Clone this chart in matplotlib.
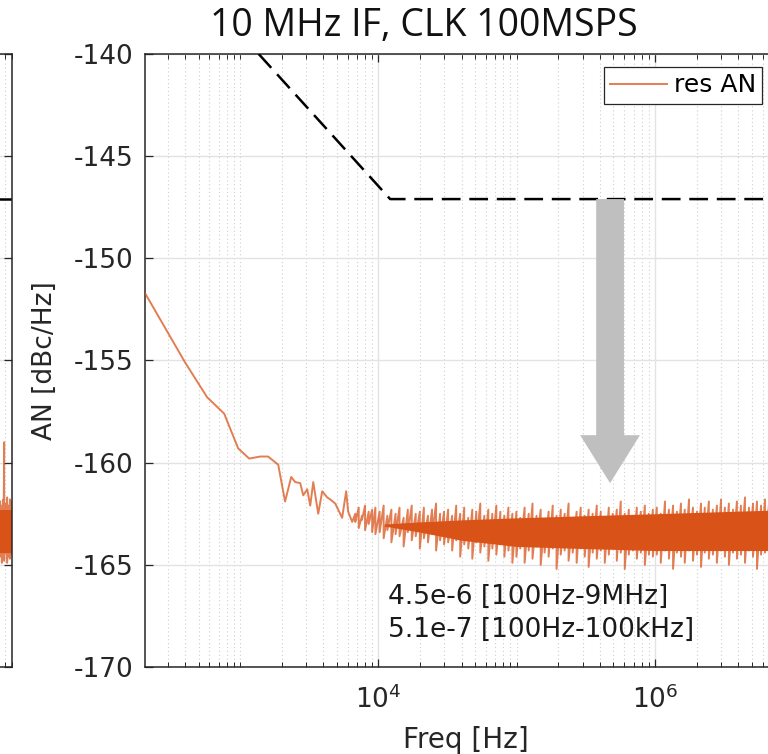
"""
Residual AN spectrum, 10 MHz IF / 100 MSPS clock (MATLAB-style figure crop)
"""
import matplotlib
matplotlib.use("Agg")
import matplotlib.pyplot as plt
from matplotlib.ticker import FixedLocator, LogLocator, NullFormatter
import numpy as np

plt.rcParams["font.family"] = ["DejaVu Sans"]
plt.rcParams["axes.unicode_minus"] = False

COLORS = {
    "line":  "#D95319",
    "mask":  "#000000",
    "arrow": "#BFBFBF",
    "axis":  "#262626",
    "grid":  "#E3E3E3",
    "minor": "#CFCFCF",
}

# ── data ────────────────────────────────────────────────────────
TITLE = "10 MHz IF, CLK 100MSPS"
X_LIM = (205, 9e6)
Y_LIM = (-170, -140)
Y_TICKS = [-170, -165, -160, -155, -150, -145, -140]
X_MAJOR = [1e4, 1e6]

# spec mask (dashed)
mask_f = [1.0e3, 1.215e4, 9.0e6]
mask_v = [-139.0, -147.1, -147.1]

# low-frequency part of the trace (single line)
thin_f = [205, 400, 577, 766, 967, 1162, 1396, 1592, 1884, 2112, 2339, 2501,
          2718, 2858, 3054, 3210, 3376, 3667, 3920, 4258, 4481, 4869, 5462,
          5840, 6040, 6456]
thin_v = [-151.7, -155.1, -156.8, -157.6, -159.3, -159.8, -159.7, -159.7,
          -160.1, -161.9, -160.7, -160.95, -161.0, -161.6, -161.3, -162.1,
          -160.95, -162.5, -161.4, -161.7, -161.8, -162.0, -162.7, -161.4,
          -162.4, -162.9]

# noisy part: upper / lower swing of the trace at each frequency
band_f = [6.8e3, 7.2e3, 7.6e3, 8.0e3, 8.5e3, 9.0e3, 9.5e3,
          10.2e3, 10.9e3, 11.6e3, 12.4e3, 13.3e3, 14.2e3, 15.2e3, 16.3e3,
          17.4e3, 18.6e3, 19.9e3, 21.3e3, 22.8e3, 24.4e3, 26.1e3, 27.9e3, 29.8e3,
          31.9e3, 34.1e3, 36.5e3, 39.0e3, 41.7e3, 44.6e3, 47.7e3, 51.0e3, 54.5e3,
          58.3e3, 62.3e3, 66.6e3, 71.2e3, 76.1e3, 81.4e3, 87.0e3, 93.0e3,
          99.4e3, 106e3, 114e3, 122e3, 130e3, 139e3, 149e3, 159e3, 170e3,
          182e3, 194e3, 208e3, 222e3, 237e3, 254e3, 271e3, 290e3, 310e3,
          331e3, 354e3, 379e3, 405e3, 433e3, 463e3, 495e3, 529e3, 565e3,
          604e3, 646e3, 691e3, 738e3, 789e3, 844e3, 902e3, 964e3,
          1.03e6, 1.10e6, 1.18e6, 1.26e6, 1.35e6, 1.44e6, 1.54e6, 1.64e6,
          1.76e6, 1.88e6, 2.01e6, 2.15e6, 2.29e6, 2.45e6, 2.62e6, 2.80e6,
          3.00e6, 3.20e6, 3.42e6, 3.66e6, 3.91e6, 4.18e6, 4.47e6, 4.78e6,
          5.11e6, 5.46e6, 5.84e6, 6.24e6, 6.67e6, 7.13e6, 7.62e6, 8.15e6,
          8.71e6, 9.0e6]
band_hi = [-162.5, -162.2, -162.6, -162.1, -162.4, -162.3, -162.2,
           -162.4, -162.1, -162.6, -162.3, -162.5, -162.2, -162.7, -162.3,
           -162.1, -162.5, -162.4, -162.2, -162.6, -162.3, -162.0, -162.5, -162.4,
           -162.3, -162.6, -162.1, -162.5, -162.2, -162.7, -162.3, -162.4, -162.0,
           -162.6, -162.3, -162.5, -162.1, -162.4, -162.6, -162.2, -162.5,
           -162.4, -162.7, -162.2, -162.5, -162.0, -162.6, -162.3, -162.8, -162.4,
           -162.1, -162.6, -162.3, -162.5, -162.0, -162.7, -162.4, -162.2, -162.6,
           -162.3, -162.5, -162.1, -162.4, -162.7, -162.2, -162.5, -162.3, -161.9,
           -162.5, -162.3, -162.6, -162.2, -162.4, -162.1, -162.5, -162.3,
           -162.2, -162.5, -161.9, -162.3, -162.1, -162.4, -162.0, -162.3,
           -161.8, -162.2, -162.4, -162.0, -162.2, -161.9, -162.3, -162.1,
           -161.8, -162.2, -162.0, -162.3, -161.9, -162.1, -161.7, -162.2,
           -162.0, -161.9, -162.1, -161.8, -162.0, -161.7, -162.0, -161.8,
           -161.9, -162.0]
band_lo = [-162.9, -163.2, -162.8, -163.3, -163.0, -163.4, -163.5,
           -163.4, -163.7, -163.3, -163.9, -163.5, -163.6, -164.1, -163.4,
           -163.8, -163.6, -164.2, -163.7, -163.9, -163.5, -164.3, -163.8, -164.0,
           -163.9, -164.3, -163.8, -164.6, -164.0, -164.2, -164.7, -163.9, -164.4,
           -164.1, -164.8, -164.2, -164.5, -164.0, -164.6, -164.3, -164.9,
           -164.6, -164.2, -164.9, -164.3, -164.7, -164.1, -165.0, -164.4, -164.6,
           -164.2, -165.2, -164.5, -164.3, -164.8, -164.4, -164.9, -164.2, -164.6,
           -165.1, -164.4, -164.7, -164.3, -164.9, -164.5, -164.2, -164.8, -164.4,
           -165.2, -164.5, -164.3, -164.7, -164.4, -165.0, -164.5, -164.6,
           -164.5, -164.9, -164.3, -164.7, -165.2, -164.4, -164.6, -164.9,
           -164.3, -164.8, -164.5, -165.1, -164.4, -164.7, -164.5, -164.9,
           -164.3, -164.6, -165.0, -164.4, -164.7, -164.5, -164.9, -164.3,
           -164.6, -165.2, -164.5, -164.4, -164.8, -164.5, -164.6, -164.9,
           -164.4, -164.6]

# solid core of the noise band (where the trace overlaps itself)
core_f  = [1.1e4, 2.0e4, 4.0e4, 1.0e5, 3.0e5, 1.0e6, 3.0e6, 9.0e6]
core_hi = [-163.0, -162.9, -162.8, -162.7, -162.6, -162.5, -162.4, -162.3]
core_lo = [-163.1, -163.4, -163.8, -164.1, -164.2, -164.3, -164.3, -164.3]

# neighbouring panel (only its right edge is in the crop)
left_f  = [7.4e6, 7.6e6, 7.8e6, 7.9e6, 8.1e6, 8.3e6, 8.5e6, 8.7e6, 8.9e6]
left_hi = [-161.9, -162.1, -161.8, -159.0, -162.0, -161.7, -162.1, -161.8, -161.9]
left_lo = [-164.6, -164.9, -164.5, -164.8, -164.4, -164.9, -164.6, -164.7, -164.5]
left_core_f  = [7.3e6, 9.0e6]
left_core_hi = [-162.3, -162.3]
left_core_lo = [-164.4, -164.4]

ARROW_F = 4.73e5
ARROW_V = (-147.1, -161.0)
NOTE_F = 1.175e4
NOTES = [("4.5e-6 [100Hz-9MHz]", -166.55), ("5.1e-7 [100Hz-100kHz]", -168.2)]

W, H = 768, 754
fig = plt.figure(figsize=(W / 100, H / 100), dpi=100)
fig.patch.set_facecolor("white")


def add_px_axes(left, top, right, bottom):
    return fig.add_axes([left / W, 1 - bottom / H, (right - left) / W, (bottom - top) / H])


def style(ax):
    ax.set_xscale("log")
    ax.set_xlim(*X_LIM)
    ax.set_ylim(*Y_LIM)
    ax.set_yticks(Y_TICKS)
    ax.xaxis.set_major_locator(FixedLocator(X_MAJOR))
    ax.xaxis.set_minor_locator(LogLocator(base=10, subs=np.arange(1, 10), numticks=40))
    ax.xaxis.set_minor_formatter(NullFormatter())
    ax.grid(True, which="major", color=COLORS["grid"], lw=1.0)
    ax.grid(True, which="minor", axis="x", color=COLORS["minor"], lw=0.8, ls=(0, (1, 2.5)))
    ax.set_axisbelow(True)
    ax.tick_params(which="both", direction="in", top=True, right=True,
                   colors=COLORS["axis"], labelsize=19)
    ax.tick_params(which="major", length=6, width=0.9)
    ax.tick_params(which="minor", length=3.5, width=0.7)
    ax.tick_params(axis="y", pad=8.5)
    ax.tick_params(axis="x", pad=13)
    for s in ax.spines.values():
        s.set_color(COLORS["axis"])
        s.set_linewidth(1.1)


def zigzag(f, hi, lo):
    return np.repeat(f, 2), np.column_stack([hi, lo]).ravel()


# ── neighbouring panel (cropped, labels fall outside the picture) ─
axl = add_px_axes(12 - 642, 54, 12, 667)
style(axl)
axl.tick_params(labelleft=False, labelbottom=False)
axl.plot(mask_f, mask_v, color=COLORS["mask"], lw=1.8, dashes=(7.5, 3.5))
axl.fill_between(left_core_f, left_core_hi, left_core_lo, color=COLORS["line"], lw=0)
lf, lv = zigzag(left_f, left_hi, left_lo)
axl.plot(lf, lv, color=COLORS["line"], lw=1.4, alpha=0.75)

# ── main panel ──────────────────────────────────────────────────
ax = add_px_axes(145, 54, 787, 667)
style(ax)

ax.plot(mask_f, mask_v, color=COLORS["mask"], lw=1.8, dashes=(7.5, 3.5), zorder=4)
ax.fill_between(core_f, core_hi, core_lo, color=COLORS["line"], lw=0, zorder=2)
zf, zv = zigzag(band_f, band_hi, band_lo)
ax.plot(np.concatenate([thin_f, zf]), np.concatenate([thin_v, zv]),
        color=COLORS["line"], lw=1.4, alpha=0.75, zorder=3, label="res AN")

ax.annotate("", xy=(ARROW_F, ARROW_V[1]), xytext=(ARROW_F, ARROW_V[0]),
            arrowprops=dict(arrowstyle="simple,head_length=3.45,head_width=4.3,tail_width=2.0",
                            mutation_scale=10, color=COLORS["arrow"], lw=0,
                            shrinkA=0, shrinkB=0), zorder=5)

for txt, v in NOTES:
    ax.text(NOTE_F, v, txt, fontsize=19, color="#1A1A1A", ha="left", va="center")

ax.set_xlabel("Freq [Hz]", fontsize=20, color=COLORS["axis"])
ax.xaxis.set_label_coords(0.5, -0.097)
ax.set_ylabel("AN [dBc/Hz]", fontsize=19, color=COLORS["axis"])
ax.yaxis.set_label_coords(-0.135, 0.5)

leg = ax.legend(loc="upper right", bbox_to_anchor=((762 - 145) / 642, 1 - 13 / 613),
                fontsize=18, frameon=True, fancybox=False, borderaxespad=0,
                borderpad=0.25, handlelength=2.3, handletextpad=0.25)
leg.get_frame().set_edgecolor(COLORS["axis"])
leg.get_frame().set_linewidth(0.9)
leg.get_frame().set_alpha(1)

fig.text(424 / W, 1 - 26 / H, TITLE, fontsize=27, family="Open Sans",
         ha="center", va="center", color="#111111")

fig.savefig("out.png", dpi=100, facecolor="white")
